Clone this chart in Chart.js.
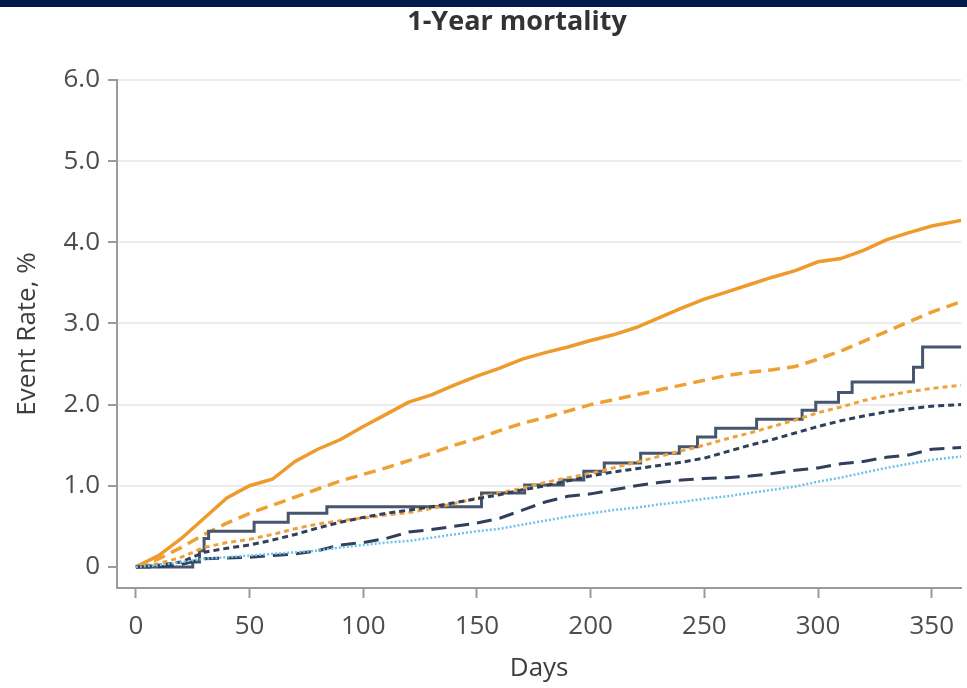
<!DOCTYPE html>
<html>
<head>
<meta charset="utf-8">
<title>1-Year mortality</title>
<script src="https://cdn.jsdelivr.net/npm/chart.js@4.4.1/dist/chart.umd.min.js"></script>
<style>
  html, body { margin: 0; padding: 0; background: #ffffff; }
  #wrap { position: relative; width: 967px; height: 688px; overflow: hidden; }
  #topbar { position: absolute; left: 0; top: 0; width: 967px; height: 7px; background: #001a4e; z-index: 2; }
  canvas { position: absolute; left: 0; top: 0; }
</style>
</head>
<body>
<div id="wrap">
  <div id="topbar"></div>
  <canvas id="chart" width="967" height="688"></canvas>
</div>
<script>
// Shared day grid for the smooth cumulative curves
const days = [0, 10, 20, 30, 40, 50, 60, 70, 80, 90, 100, 110, 120, 130, 140, 150, 160, 170, 180, 190,
  200, 210, 220, 230, 240, 250, 260, 270, 280, 290, 300, 310, 320, 330, 340, 350, 363];

// Cumulative event rate (%) per group
const orangeSolid = [0, 0.14, 0.35, 0.6, 0.85, 1.0, 1.08, 1.3, 1.45, 1.57, 1.73, 1.88, 2.03, 2.12, 2.24, 2.35, 2.45, 2.56, 2.64, 2.71,
  2.79, 2.86, 2.95, 3.07, 3.19, 3.3, 3.39, 3.48, 3.57, 3.65, 3.76, 3.8, 3.9, 4.03, 4.12, 4.2, 4.27];
const orangeDashed = [0, 0.1, 0.24, 0.4, 0.54, 0.66, 0.76, 0.86, 0.96, 1.06, 1.14, 1.22, 1.31, 1.4, 1.5, 1.58, 1.68, 1.77, 1.84, 1.92,
  2.0, 2.06, 2.12, 2.18, 2.24, 2.3, 2.36, 2.4, 2.43, 2.47, 2.56, 2.66, 2.78, 2.9, 3.02, 3.14, 3.27];
const orangeDotted = [0, 0.04, 0.12, 0.24, 0.3, 0.34, 0.4, 0.47, 0.53, 0.57, 0.6, 0.64, 0.67, 0.72, 0.78, 0.85, 0.91, 0.97, 1.04, 1.1,
  1.15, 1.22, 1.29, 1.36, 1.43, 1.5, 1.58, 1.65, 1.73, 1.81, 1.9, 1.97, 2.05, 2.11, 2.16, 2.2, 2.24];
const navyShortDash = [0, 0.02, 0.06, 0.18, 0.23, 0.27, 0.33, 0.4, 0.48, 0.55, 0.61, 0.66, 0.7, 0.74, 0.79, 0.84, 0.89, 0.95, 1.0, 1.06,
  1.12, 1.17, 1.21, 1.25, 1.29, 1.34, 1.42, 1.5, 1.57, 1.65, 1.73, 1.8, 1.86, 1.91, 1.95, 1.98, 2.0];
const navyLongDash = [0, 0.0, 0.03, 0.1, 0.11, 0.12, 0.14, 0.16, 0.2, 0.27, 0.3, 0.35, 0.43, 0.46, 0.5, 0.54, 0.6, 0.7, 0.8, 0.87,
  0.9, 0.95, 1.0, 1.04, 1.07, 1.09, 1.1, 1.12, 1.15, 1.19, 1.22, 1.27, 1.3, 1.35, 1.38, 1.45, 1.47];
const blueDotted = [0, 0.02, 0.06, 0.1, 0.12, 0.14, 0.16, 0.18, 0.2, 0.24, 0.27, 0.3, 0.32, 0.36, 0.4, 0.44, 0.47, 0.52, 0.57, 0.62,
  0.66, 0.7, 0.73, 0.77, 0.8, 0.84, 0.87, 0.91, 0.95, 0.99, 1.05, 1.1, 1.16, 1.22, 1.27, 1.32, 1.36];

// Kaplan-Meier style step curve: day of each change and the rate after it
const stepDays = [0, 25, 28, 30, 32, 52, 67, 84, 152, 171, 188, 197, 206, 222, 239, 247, 255, 273, 293, 299, 309, 315, 342, 346, 363];
const stepRate = [0, 0.06, 0.2, 0.35, 0.44, 0.55, 0.66, 0.74, 0.91, 1.01, 1.07, 1.18, 1.28, 1.4, 1.48, 1.6, 1.71, 1.82, 1.93, 2.03, 2.15, 2.28, 2.46, 2.71, 2.71];

// Axis ticks
const xTickValues = [0, 50, 100, 150, 200, 250, 300, 350];
const yTickValues = [0, 1, 2, 3, 4, 5, 6];
const yTickLabels = ['0', '1.0', '2.0', '3.0', '4.0', '5.0', '6.0'];

const FONT = "'Open Sans', 'Noto Sans', sans-serif";
const pts = (xs, ys) => xs.map((d, i) => ({ x: d, y: ys[i] }));

const headline = {
  id: 'headline',
  afterDraw(chart) {
    const ctx = chart.ctx;
    ctx.save();
    ctx.font = "bold 27px " + FONT;
    ctx.fillStyle = '#333333';
    ctx.textAlign = 'center';
    ctx.textBaseline = 'middle';
    ctx.fillText('1-Year mortality', 517, 22);
    ctx.restore();
  }
};

const line = (data, color, width, dash, extra) => Object.assign({
  data, borderColor: color, backgroundColor: color, borderWidth: width,
  borderDash: dash, pointRadius: 0, tension: 0, fill: false
}, extra || {});

new Chart(document.getElementById('chart'), {
  type: 'line',
  data: {
    datasets: [
      line(pts(days, blueDotted), '#6cc3e8', 2.5, [2, 2]),
      line(pts(days, navyLongDash), '#2f3f5c', 3, [15, 8]),
      line(pts(days, navyShortDash), '#2f3f5c', 3, [6, 4]),
      line(pts(days, orangeDotted), '#efa23a', 3, [5, 4]),
      line(pts(stepDays, stepRate), '#46566c', 3, [], { stepped: 'before' }),
      line(pts(days, orangeDashed), '#eea033', 3.5, [12, 7]),
      line(pts(days, orangeSolid), '#ee9a2c', 3.5, [])
    ]
  },
  options: {
    responsive: false,
    animation: false,
    layout: { padding: { top: 80, right: 0, left: 0, bottom: 0 } },
    plugins: { legend: { display: false }, tooltip: { enabled: false }, title: { display: false } },
    scales: {
      x: {
        type: 'linear',
        min: -8.3,
        max: 363,
        afterFit(scale) { scale.height = 100; },
        afterBuildTicks(scale) { scale.ticks = xTickValues.map(v => ({ value: v })); },
        border: { display: true, color: '#9a9a9a', width: 2 },
        grid: { drawOnChartArea: false, drawTicks: true, tickLength: 10, tickColor: '#9a9a9a', tickWidth: 2 },
        ticks: { color: '#4d4d4d', font: { family: FONT, size: 26 }, padding: 13, maxRotation: 0 },
        title: { display: true, text: 'Days', color: '#3d3d3d', font: { family: FONT, size: 26 }, padding: { top: 0, bottom: 4 } }
      },
      y: {
        min: -0.26,
        max: 6,
        afterFit(scale) { scale.width = 117; },
        afterBuildTicks(scale) { scale.ticks = yTickValues.map(v => ({ value: v })); },
        border: { display: true, color: '#9a9a9a', width: 2 },
        grid: {
          drawTicks: true, tickLength: 9, tickColor: '#9a9a9a', tickWidth: 2, lineWidth: 2,
          color: ctx => (ctx.tick && ctx.tick.value === 0) ? 'rgba(0,0,0,0)' : '#ececec'
        },
        ticks: {
          color: '#4d4d4d', font: { family: FONT, size: 26 }, padding: 8,
          callback: v => yTickLabels[yTickValues.indexOf(v)]
        },
        title: { display: true, text: 'Event Rate, %', color: '#3d3d3d', font: { family: FONT, size: 26 }, padding: { top: 12, bottom: 0 } }
      }
    }
  },
  plugins: [headline]
});
</script>
</body>
</html>
